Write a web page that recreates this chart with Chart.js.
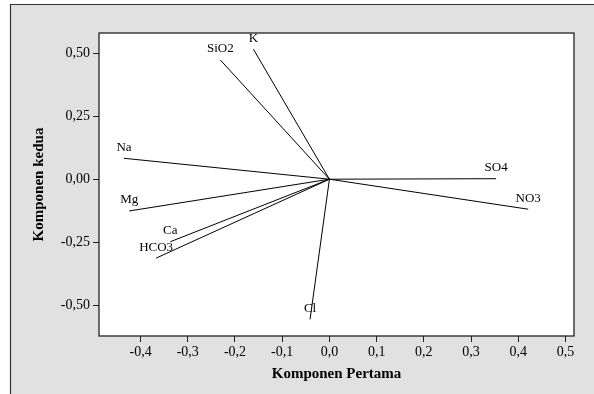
<!DOCTYPE html>
<html>
<head>
<meta charset="utf-8">
<script src="https://cdn.jsdelivr.net/npm/chart.js@4.4.1/dist/chart.umd.min.js"></script>
<style>
  html, body { margin: 0; padding: 0; background: #fff; }
  #wrap { width: 594px; height: 394px; }
</style>
</head>
<body>
<div id="wrap"><canvas id="loadingPlot" width="594" height="394"></canvas></div>
<script>
  // loadings (Komponen Pertama, Komponen kedua)
  const variables = ['K', 'SiO2', 'Na', 'Mg', 'Ca', 'HCO3', 'SO4', 'NO3', 'Cl'];
  const pc1 = [-0.161, -0.231, -0.435, -0.424, -0.337, -0.367, 0.353, 0.421, -0.041];
  const pc2 = [0.516, 0.473, 0.083, -0.126, -0.248, -0.313, 0.002, -0.119, -0.556];
  const xTicks = [-0.4, -0.3, -0.2, -0.1, 0.0, 0.1, 0.2, 0.3, 0.4, 0.5];
  const yTicks = [-0.5, -0.25, 0.0, 0.25, 0.5];

  const serif = '"Liberation Serif", "Times New Roman", serif';

  const datasets = variables.map((name, i) => ({
    label: name,
    data: [{ x: 0, y: 0 }, { x: pc1[i], y: pc2[i] }],
    showLine: true,
    borderColor: '#000',
    borderWidth: 1,
    pointRadius: 0,
    pointHoverRadius: 0
  }));

  const framePlugin = {
    id: 'frame',
    beforeDraw(chart) {
      const ctx = chart.ctx;
      const a = chart.chartArea;
      ctx.save();
      ctx.fillStyle = '#e1e1e1';
      ctx.fillRect(11, 5, chart.width - 11, chart.height - 5);
      ctx.strokeStyle = '#333';
      ctx.lineWidth = 1.2;
      ctx.beginPath();
      ctx.moveTo(10.5, chart.height);
      ctx.lineTo(10.5, 4.5);
      ctx.lineTo(chart.width, 4.5);
      ctx.stroke();
      ctx.fillStyle = '#fff';
      ctx.fillRect(a.left, a.top, a.right - a.left, a.bottom - a.top);
      ctx.restore();
    },
    afterDraw(chart) {
      const ctx = chart.ctx;
      const a = chart.chartArea;
      ctx.save();
      ctx.strokeStyle = '#222';
      ctx.lineWidth = 1.3;
      ctx.strokeRect(a.left, a.top, a.right - a.left, a.bottom - a.top);
      // variable names at the end of each line
      const xs = chart.scales.x, ys = chart.scales.y;
      ctx.fillStyle = '#000';
      ctx.font = '13px ' + serif;
      ctx.textAlign = 'center';
      ctx.textBaseline = 'middle';
      variables.forEach((name, i) => {
        ctx.fillText(name, xs.getPixelForValue(pc1[i]), ys.getPixelForValue(pc2[i]) - 11);
      });
      ctx.restore();
    }
  };

  new Chart(document.getElementById('loadingPlot'), {
    type: 'scatter',
    data: { datasets },
    options: {
      responsive: false,
      animation: false,
      events: [],
      layout: { padding: { left: 11, top: 33, right: 20, bottom: 0 } },
      plugins: { legend: { display: false }, tooltip: { enabled: false } },
      scales: {
        x: {
          type: 'linear',
          min: -0.488,
          max: 0.518,
          afterFit(s) { s.height = 58; },
          afterBuildTicks(s) { s.ticks = xTicks.map(v => ({ value: v })); },
          grid: { drawOnChartArea: false, tickLength: 6, color: '#222', tickWidth: 1 },
          border: { display: false },
          ticks: {
            color: '#000',
            font: { family: serif, size: 14 },
            padding: 2,
            maxRotation: 0,
            callback: v => v.toFixed(1).replace('.', ',')
          },
          title: {
            display: true,
            text: 'Komponen Pertama',
            color: '#000',
            font: { family: serif, size: 15, weight: 'bold' },
            padding: { top: 0, bottom: 11 }
          }
        },
        y: {
          type: 'linear',
          min: -0.622,
          max: 0.58,
          afterFit(s) { s.width = 88; },
          afterBuildTicks(s) { s.ticks = yTicks.map(v => ({ value: v })); },
          grid: { drawOnChartArea: false, tickLength: 6, color: '#222', tickWidth: 1 },
          border: { display: false },
          ticks: {
            color: '#000',
            font: { family: serif, size: 14 },
            padding: 3,
            callback: v => v.toFixed(2).replace('.', ',')
          },
          title: {
            display: true,
            text: 'Komponen kedua',
            color: '#000',
            font: { family: serif, size: 15, weight: 'bold' },
            padding: { top: 19, bottom: 0 }
          }
        }
      }
    },
    plugins: [framePlugin]
  });
</script>
</body>
</html>
